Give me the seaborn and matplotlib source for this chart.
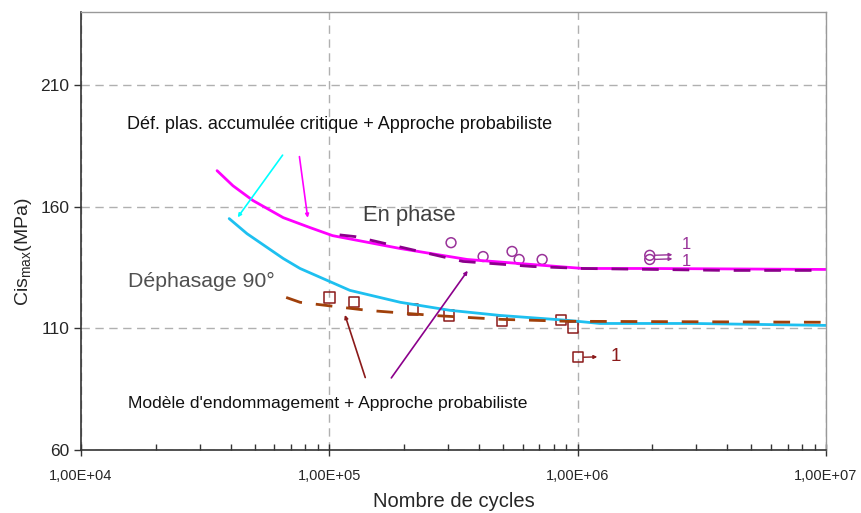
import matplotlib
matplotlib.use("Agg")
import matplotlib.pyplot as plt
import numpy as np
import pandas as pd
import seaborn as sns

# model curves
phase_n = [35300, 40900, 49300, 65200, 83600, 103000, 193000, 359000, 661000, 1050000, 1950000, 10000000]
phase_s = [174.8, 168.6, 162.5, 155.5, 151.4, 148.1, 142.8, 138.3, 136.2, 134.6, 134.6, 134.2]

phase_dash_n = [110000, 127000, 345000, 661000, 1050000, 3980000, 9460000]
phase_dash_s = [148.4, 147.7, 137.5, 135.4, 134.6, 133.8, 133.8]

deph_n = [39500, 46600, 65200, 76200, 121000, 193000, 306000, 487000, 906000, 1230000, 2920000, 10000000]
deph_s = [155.1, 148.9, 138.7, 134.6, 125.6, 120.7, 117.4, 115.3, 113.3, 112.0, 112.0, 111.2]

deph_dash_n = [67000, 76200, 142000, 262000, 487000, 906000, 9800000]
deph_dash_s = [122.7, 120.7, 117.4, 115.3, 113.7, 112.9, 112.5]

# experimental points
sq_n = [100000, 126000, 217000, 303000, 497000, 857000, 957000, 1000000]
sq_s = [122.7, 120.7, 117.8, 115.3, 112.9, 113.3, 110.4, 98.1]
circ_n = [309000, 416000, 544000, 581000, 719000, 1950000, 1950000]
circ_s = [145.2, 139.5, 141.6, 138.3, 138.3, 140.0, 138.3]

yticks = [60, 110, 160, 210]
xticks = [1e4, 1e5, 1e6, 1e7]
xticklabels = ["1,00E+04", "1,00E+05", "1,00E+06", "1,00E+07"]

sns.set_style("white")
plt.rcParams["font.family"] = ["Liberation Sans", "DejaVu Sans"]
plt.rcParams["mathtext.fontset"] = "custom"
plt.rcParams["mathtext.rm"] = "Liberation Sans"

fig = plt.figure(figsize=(8.61, 5.13), dpi=100)
ax = fig.add_axes([0.0941, 0.1228, 0.8653, 0.8538])
ax.set_xscale("log")

sns.lineplot(x=phase_n, y=phase_s, color="#ff00ff", lw=2, ax=ax)
sns.lineplot(x=phase_dash_n, y=phase_dash_s, color="#8b008b", lw=2, ax=ax)
ax.lines[-1].set_dashes([6, 5])
sns.lineplot(x=deph_n, y=deph_s, color="#1ec0f0", lw=2, ax=ax)
sns.lineplot(x=deph_dash_n, y=deph_dash_s, color="#a0400a", lw=2, ax=ax)
ax.lines[-1].set_dashes([6, 5])

sns.scatterplot(x=sq_n, y=sq_s, marker="s", s=55, facecolor="none",
                edgecolor="#8b1a1a", linewidth=1.1, ax=ax)
sns.scatterplot(x=circ_n, y=circ_s, marker="o", s=50, facecolor="none",
                edgecolor="#993399", linewidth=1.1, ax=ax)

# run-out arrows
ax.annotate("", xy=(1.23e6, 98.3), xytext=(1.03e6, 98.1),
            arrowprops=dict(arrowstyle="-|>", color="#8b1a1a", lw=1, mutation_scale=5))
ax.text(1.36e6, 98.5, "1", color="#8b1a1a", fontsize=13.5, va="center")
for yy, ly in [(140.0, 144.6), (138.3, 137.4)]:
    ax.annotate("", xy=(2.47e6, yy + 0.3), xytext=(2.0e6, yy),
                arrowprops=dict(arrowstyle="-|>", color="#993399", lw=1, mutation_scale=5))
    ax.text(2.62e6, ly, "1", color="#993399", fontsize=12, va="center")

# annotation arrows
ax.annotate("", xy=(42100, 154.7), xytext=(65800, 182.1),
            arrowprops=dict(arrowstyle="-|>", color="#00ffff", lw=1.2, mutation_scale=5))
ax.annotate("", xy=(82100, 154.3), xytext=(75500, 181.7),
            arrowprops=dict(arrowstyle="-|>", color="#ff00ff", lw=1.2, mutation_scale=5))
ax.annotate("", xy=(114600, 116.6), xytext=(140600, 88.7),
            arrowprops=dict(arrowstyle="-|>", color="#8b1a1a", lw=1.2, mutation_scale=5))
ax.annotate("", xy=(366000, 134.6), xytext=(175000, 88.7),
            arrowprops=dict(arrowstyle="-|>", color="#8b008b", lw=1.2, mutation_scale=5))

ax.text(15300, 193.6, "Déf. plas. accumulée critique + Approche probabiliste",
        fontsize=13, color="#111111", va="center")
ax.text(136700, 156.3, "En phase", fontsize=15.8, color="#404040", va="center")
ax.text(15460, 129.3, "Déphasage 90°", fontsize=15.3, color="#505050", va="center")
ax.text(15460, 79.3, "Modèle d'endommagement + Approche probabiliste",
        fontsize=12.6, color="#111111", va="center")

ax.set_xlim(1e4, 1e7)
ax.set_ylim(60, 240)
ax.set_yticks(yticks)
ax.set_xticks(xticks)
ax.set_xticklabels(xticklabels)
ax.tick_params(axis="x", which="major", bottom=True, direction="inout", length=8, width=1,
               labelsize=10.5, pad=10, color="#333333")
ax.tick_params(axis="x", which="minor", bottom=True, direction="in", length=4, width=1,
               color="#333333")
ax.tick_params(axis="y", left=True, direction="out", length=5, width=1, labelsize=12.5,
               color="#333333")

ax.grid(True, which="major", axis="both", color="#b0b0b0", linestyle=(0, (6, 4)), lw=1)
for side in ["left", "bottom"]:
    ax.spines[side].set_color("#333333")
    ax.spines[side].set_linewidth(1.2)
for side in ["top", "right"]:
    ax.spines[side].set_color("#999999")
    ax.spines[side].set_linewidth(1)

ax.set_xlabel("Nombre de cycles", fontsize=14.5, labelpad=6)
ax.set_ylabel("Cis$_{\\mathregular{max}}$(MPa)", fontsize=14)
ax.yaxis.set_label_coords(-0.063, 0.452)

fig.savefig("out.png", dpi=100)
